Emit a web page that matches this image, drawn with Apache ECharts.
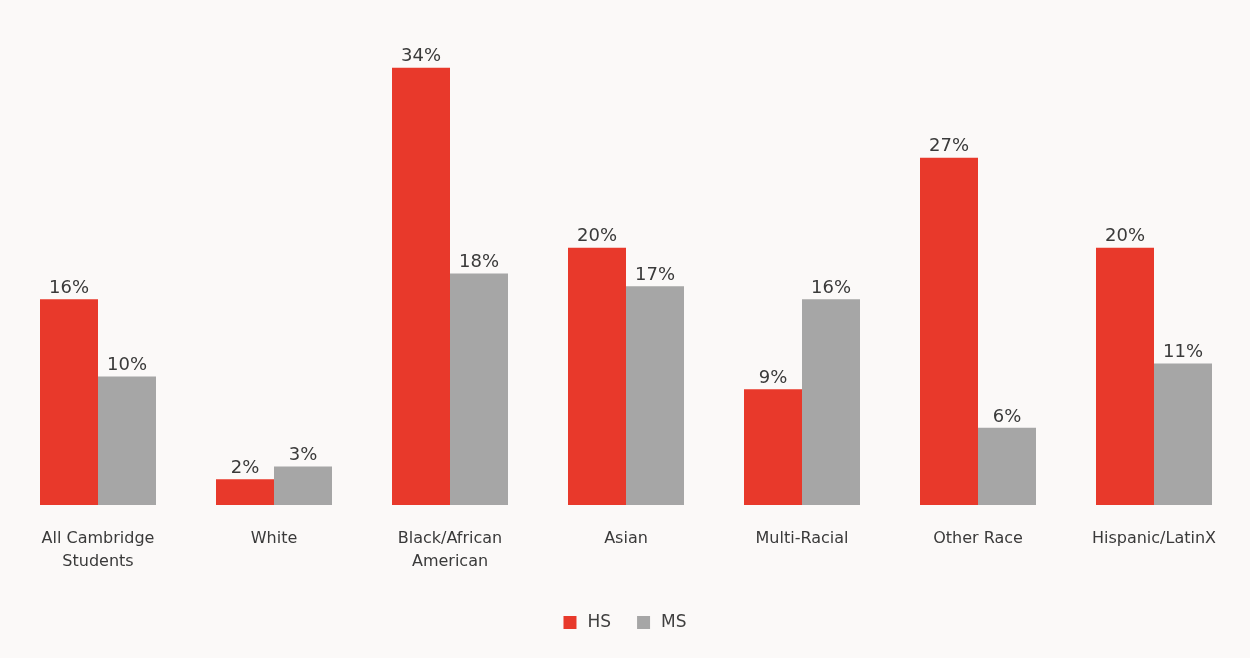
<!DOCTYPE html>
<html>
<head>
<meta charset="utf-8">
<script src="https://cdn.jsdelivr.net/npm/echarts@6/dist/echarts.min.js"></script>
<style>
  html, body { margin: 0; padding: 0; background: #fbf9f8; }
  #chart { width: 1250px; height: 658px; }
</style>
</head>
<body>
<div id="chart"></div>
<script>
// categories and values
const categories = ['All Cambridge\nStudents', 'White', 'Black/African\nAmerican', 'Asian', 'Multi-Racial', 'Other Race', 'Hispanic/LatinX']
const hsValues = [16, 2, 34, 20, 9, 27, 20]
const msValues = [10, 3, 18, 17, 16, 6, 11]

const chart = echarts.init(document.getElementById('chart'))

const labelStyle = {
  show: true,
  position: 'top',
  formatter: '{c}%',
  fontFamily: 'DejaVu Sans',
  fontSize: 18,
  color: '#3a3a3a',
  distance: 2
}

chart.setOption({
  backgroundColor: '#fbf9f8',
  animation: false,
  grid: { left: 10, right: 8, top: 42, bottom: 153 },
  legend: {
    bottom: 22,
    left: 'center',
    itemWidth: 13,
    itemHeight: 13,
    itemGap: 26,
    icon: 'rect',
    textStyle: { fontFamily: 'DejaVu Sans', fontSize: 17, color: '#404040', padding: [0, 0, 0, 6] },
    data: ['HS', 'MS']
  },
  xAxis: {
    type: 'category',
    data: categories,
    axisLine: { show: false },
    axisTick: { show: false },
    axisLabel: {
      fontFamily: 'DejaVu Sans',
      fontSize: 16,
      color: '#3a3a3a',
      margin: 22,
      lineHeight: 23,
      interval: 0
    }
  },
  yAxis: {
    type: 'value',
    min: 0,
    max: 36,
    show: false
  },
  series: [
    {
      name: 'HS',
      type: 'bar',
      data: hsValues,
      barWidth: 58,
      barGap: '0%',
      itemStyle: { color: '#e8392b' },
      label: labelStyle
    },
    {
      name: 'MS',
      type: 'bar',
      data: msValues,
      barWidth: 58,
      itemStyle: { color: '#a6a6a6' },
      label: labelStyle
    }
  ]
})
</script>
</body>
</html>
